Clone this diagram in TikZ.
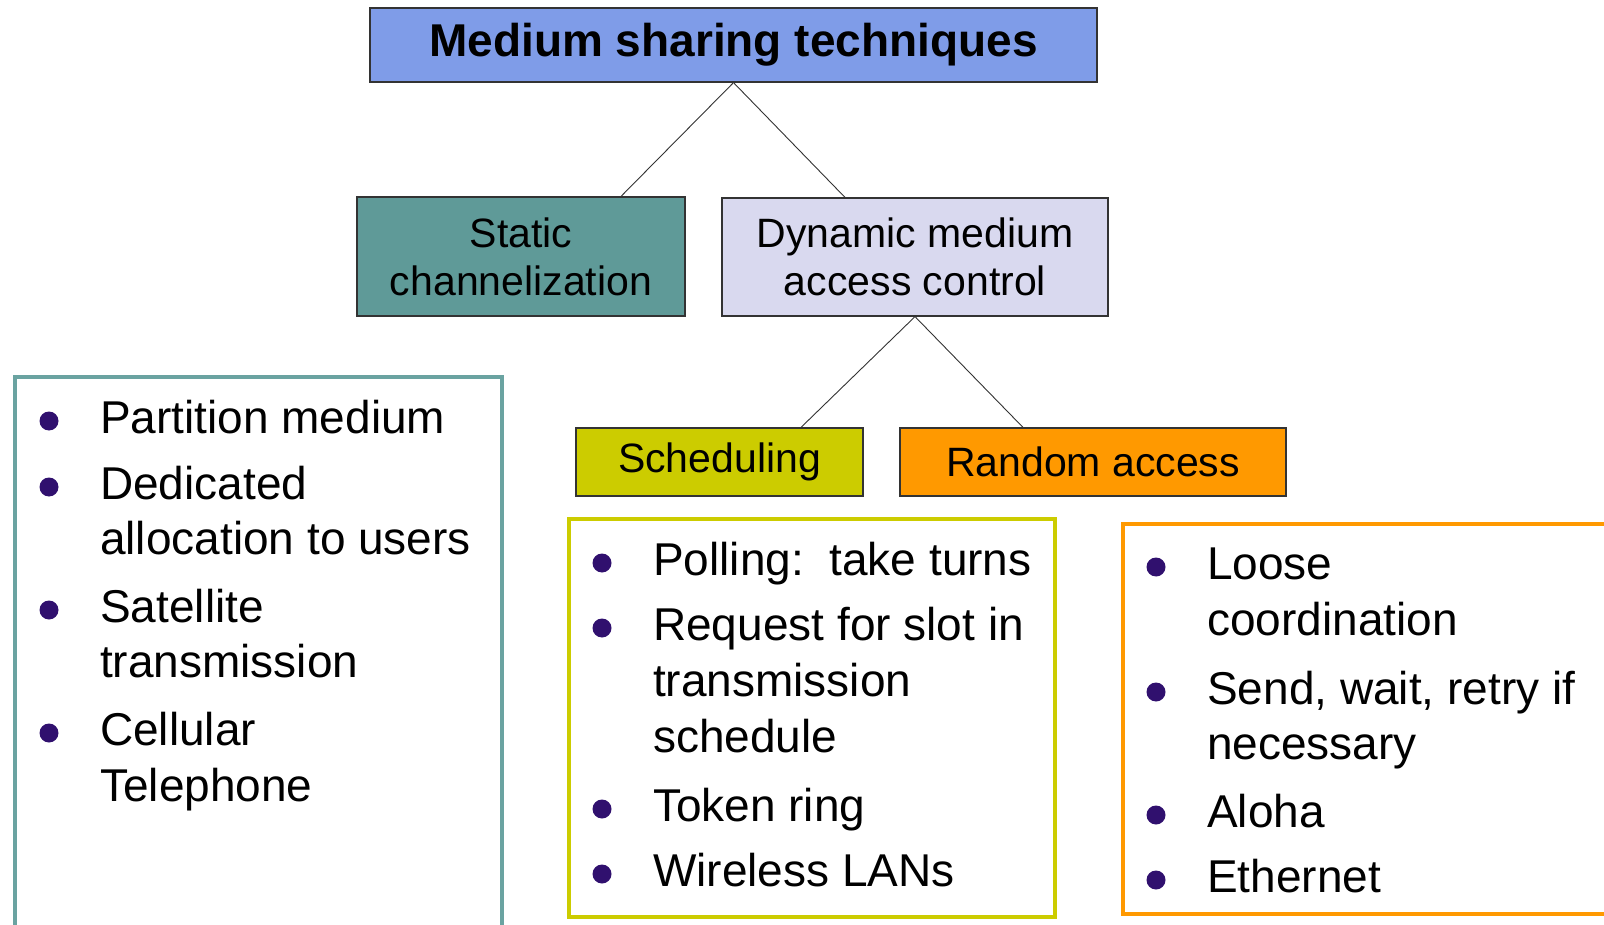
\documentclass[tikz,border=0pt]{standalone}
\usepackage{fontspec}
\setmainfont{Liberation Sans}
\usepackage{tikz}
\usetikzlibrary{positioning}
\definecolor{mstitle}{HTML}{7F9CE8}
\definecolor{mststatic}{HTML}{5F9A98}
\definecolor{mstdyn}{HTML}{D9D9EF}
\definecolor{mstsched}{HTML}{CCCC00}
\definecolor{mstrand}{HTML}{FF9900}
\definecolor{mstteal}{HTML}{6AA3A1}
\definecolor{mstline}{HTML}{333333}
\definecolor{mstdot}{HTML}{30106E}

\begin{document}
\begin{tikzpicture}[x=1pt,y=-1pt,
  head/.style={draw=mstline, line width=1.2pt, align=center, inner sep=0pt,
               font=\fontsize{41}{48}\selectfont},
  frame/.style={line width=4pt, anchor=north west, inner sep=0pt},
  itemtext/.style={anchor=base west, inner sep=0pt,
                   font=\fontsize{46}{55}\selectfont},
  dot/.style={circle, fill=mstdot, inner sep=0pt, minimum size=19pt},
  link/.style={draw=mstline, line width=0.9pt}
]
  \useasboundingbox (0,0) rectangle (1604,925);

  % tree of techniques
  \node[head, fill=mstitle, minimum width=727pt, minimum height=74pt,
        font=\fontsize{46}{52}\selectfont\bfseries] (top) at (733.5,45)
    {Medium sharing techniques};
  \node[head, fill=mststatic, minimum width=328pt, minimum height=119pt]
    (static) at (521,256.5) {Static\\channelization};
  \node[head, fill=mstdyn, minimum width=386pt, minimum height=118pt]
    (dyn) at (915,257) {Dynamic medium\\access control};
  \node[head, fill=mstsched, minimum width=287pt, minimum height=68pt]
    (sched) at (719.5,462) {Scheduling};
  \node[head, fill=mstrand, minimum width=386pt, minimum height=68pt]
    (rand) at (1093,462) {Random access};

  \draw[link] (top.south) -- ([xshift=100pt]static.north);
  \draw[link] (top.south) -- ([xshift=-70pt]dyn.north);
  \draw[link] (dyn.south) -- ([xshift=81.5pt]sched.north);
  \draw[link] (dyn.south) -- ([xshift=-70pt]rand.north);

  % list frames
  \node[frame, draw=mstteal, minimum width=487pt, minimum height=580pt]
    (lbox) at (13,375) {};
  \node[frame, draw=mstsched, minimum width=486pt, minimum height=398pt]
    (mbox) at (567,517) {};
  \node[frame, draw=mstrand, minimum width=520pt, minimum height=390pt]
    (rbox) at (1121,522) {};

  % list lines
  \foreach \n/\y/\t in {l1/433/Partition medium, l2/499/Dedicated,
      l3/554/allocation to users, l4/622/Satellite, l5/677/transmission,
      l6/745/Cellular, l7/801/Telephone}
    \node[itemtext] (\n) at (100,\y) {\t};
  \foreach \n/\y/\t in {m1/575/{Polling:\ \ take turns},
      m2/640/Request for slot in, m3/696/transmission, m4/752/schedule,
      m5/821/Token ring, m6/886/Wireless LANs}
    \node[itemtext] (\n) at (653,\y) {\t};
  \foreach \n/\y/\t in {r1/579/Loose, r2/635/coordination,
      r3/704/{Send, wait, retry if}, r4/759/necessary, r5/827/Aloha,
      r6/892/Ethernet}
    \node[itemtext] (\n) at (1207,\y) {\t};

  % bullets
  \foreach \n in {l1,l2,l4,l6,m1,m2,m5,m6,r1,r3,r5,r6}
    \node[dot] (dot-\n) at ([xshift=-51pt,yshift=12pt]\n.base west) {};

\end{tikzpicture}
\end{document}
